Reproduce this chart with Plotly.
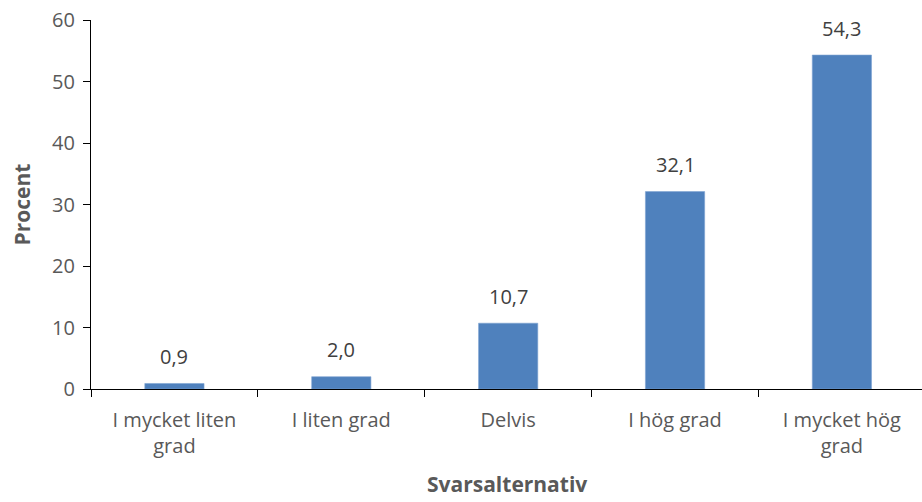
import plotly.graph_objects as go

categories = ["I mycket liten<br>grad", "I liten grad", "Delvis", "I hög grad", "I mycket hög<br>grad"]
values = [0.9, 2.0, 10.7, 32.1, 54.3]
labels = ["0,9", "2,0", "10,7", "32,1", "54,3"]
y_ticks = [0, 10, 20, 30, 40, 50, 60]
x_title = "Svarsalternativ"
y_title = "Procent"

FONT = "Open Sans"
GREY = "#595959"

fig = go.Figure(go.Bar(
    x=categories, y=values,
    marker=dict(color="#4F81BD", line=dict(color="#7EA3D1", width=0.6)),
    width=0.355,
))

for c, v, t in zip(categories, values, labels):
    fig.add_annotation(x=c, y=v, text=t, showarrow=False, yanchor="middle", yshift=27,
                       font=dict(family=FONT, size=20, color="#404040"))

# x-axis title placed below the tick labels
fig.add_annotation(xref="paper", yref="paper", x=0.5, y=0, xanchor="center", yanchor="middle",
                   yshift=-95, text=f"<b>{x_title}</b>", showarrow=False,
                   font=dict(family=FONT, size=21, color=GREY))

fig.update_layout(
    width=922, height=502, plot_bgcolor="white", paper_bgcolor="white",
    margin=dict(l=91, r=0, t=20, b=113),
    showlegend=False,
    font=dict(family=FONT, color=GREY),
)
fig.update_xaxes(
    range=[-0.5, 4.48], showline=True, linecolor="black", linewidth=1.3,
    ticks="outside", tickson="boundaries", ticklen=7, tickcolor="black", tickwidth=1.3,
    tickfont=dict(family=FONT, size=20, color=GREY), ticklabelstandoff=13,
    ticklabeloverflow="allow", automargin=False,
)
fig.update_yaxes(
    range=[0, 60], tickvals=y_ticks, showline=True, linecolor="black", linewidth=1.3,
    ticks="outside", ticklen=7, tickcolor="black", tickwidth=1.3, showgrid=False, zeroline=False,
    tickfont=dict(family=FONT, size=20, color=GREY), ticklabelstandoff=4,
    ticklabeloverflow="allow", automargin=False,
    title=dict(text=f"<b>{y_title}</b>", font=dict(family=FONT, size=21, color=GREY)),
)

# remove the default page margin so the 922x502 figure fills the window exactly
fig.write_html(
    "out.html",
    config={"displayModeBar": False},
    post_script="document.body.style.margin='0';document.body.style.overflow='hidden';",
)
